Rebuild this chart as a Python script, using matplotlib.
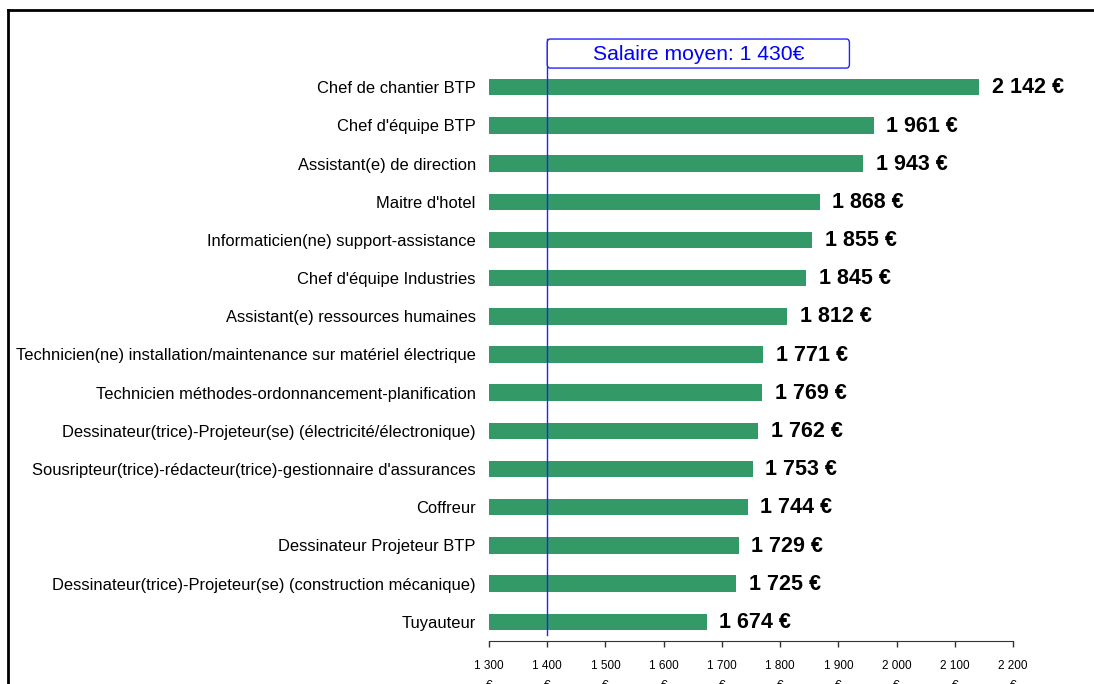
import matplotlib.pyplot as plt
from matplotlib.patches import FancyBboxPatch
from matplotlib.lines import Line2D

plt.rcParams['font.family'] = ['Liberation Sans', 'DejaVu Sans']

# donnees
metiers = [
    "Chef de chantier BTP",
    "Chef d'équipe BTP",
    "Assistant(e) de direction",
    "Maitre d'hotel",
    "Informaticien(ne) support-assistance",
    "Chef d'équipe Industries",
    "Assistant(e) ressources humaines",
    "Technicien(ne) installation/maintenance sur matériel électrique",
    "Technicien méthodes-ordonnancement-planification",
    "Dessinateur(trice)-Projeteur(se) (électricité/électronique)",
    "Sousripteur(trice)-rédacteur(trice)-gestionnaire d'assurances",
    "Coffreur",
    "Dessinateur Projeteur BTP",
    "Dessinateur(trice)-Projeteur(se) (construction mécanique)",
    "Tuyauteur",
]
salaires = [2142, 1961, 1943, 1868, 1855, 1845, 1812, 1771, 1769, 1762, 1753, 1744, 1729, 1725, 1674]
ligne_moyenne = 1400
texte_moyenne = "Salaire moyen: 1 430€"
ticks_x = [1300, 1400, 1500, 1600, 1700, 1800, 1900, 2000, 2100, 2200]


def fmt(v):
    return f"{v:,}".replace(",", " ")


fig = plt.figure(figsize=(10.94, 6.84), dpi=100)
ax = fig.add_axes([0.447, 0.063, 0.479, 0.8375])

y = list(range(len(metiers)))
ax.barh(y, [s - 1300 for s in salaires], left=1300, height=0.43, color="#339966", zorder=2)

for yi, s in zip(y, salaires):
    ax.annotate(fmt(s) + " €", (s, yi), xytext=(9, -0.5), textcoords="offset points",
                ha="left", va="center", fontsize=15.5, fontweight="bold", annotation_clip=False)

ax.set_xlim(1300, 2200)
ax.set_ylim(len(metiers) - 0.5, -0.5)
ax.set_yticks(y)
ax.set_yticklabels(metiers, fontsize=11.9)
ax.set_xticks(ticks_x)
ax.set_xticklabels([fmt(t) + "\n€" for t in ticks_x], fontsize=8.5, linespacing=1.8)
ax.tick_params(axis="y", length=0, pad=9.5)
ax.tick_params(axis="x", length=4, width=1, pad=10, color="#333333")

for s in ["top", "right", "left"]:
    ax.spines[s].set_visible(False)
ax.spines["bottom"].set_color("#333333")

# ligne salaire moyen
ax.plot([ligne_moyenne, ligne_moyenne], [14.34, -1.26], color="#2222ff", lw=1, clip_on=False, zorder=3)
box = FancyBboxPatch((ligne_moyenne, -1.26), 519, 0.76, boxstyle="round,pad=0,rounding_size=5",
                     mutation_aspect=0.02, facecolor="white", edgecolor="#2222ff", lw=1,
                     clip_on=False, zorder=4)
ax.add_patch(box)
ax.text(ligne_moyenne + 519 / 2, -0.86, texte_moyenne, color="#0000ff", fontsize=15.2,
        ha="center", va="center", zorder=5)

# cadre
fig.add_artist(Line2D([0.0075, 0.0075], [0.0, 0.985], color="black", lw=2, transform=fig.transFigure))
fig.add_artist(Line2D([0.0075, 1.0], [0.985, 0.985], color="black", lw=2, transform=fig.transFigure))

fig.savefig("out.png", dpi=100)
